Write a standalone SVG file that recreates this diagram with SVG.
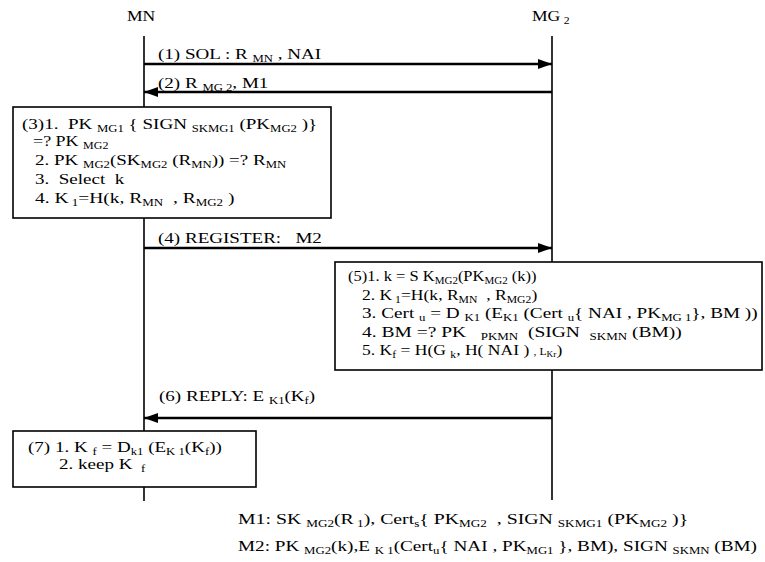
<svg xmlns="http://www.w3.org/2000/svg" width="765" height="562" viewBox="0 0 765 562">
<style>
text{font-family:"Liberation Serif","Times New Roman",Times,serif;font-size:15px;fill:#000;white-space:pre}
.s{font-size:10px}
.ss{font-size:8px}
.life{stroke:#000;stroke-width:1.6;fill:none}
.msg{stroke:#000;stroke-width:2.4;fill:none}
.box{fill:#fff;stroke:#000;stroke-width:1.6}
</style>
<defs>
<marker id="ah" viewBox="0 0 14 10" refX="14" refY="5" markerWidth="14" markerHeight="10" markerUnits="userSpaceOnUse" orient="auto">
<path d="M0,0 L14,5 L0,10 z" fill="#000"/>
</marker>
</defs>
<rect width="765" height="562" fill="#fff"/>
<g id="lifelines">
<text transform="translate(127,21) scale(1.17,1)">MN</text>
<text transform="translate(532,21) scale(1.17,1)">MG<tspan class="s" dx="3" dy="3">2</tspan></text>
<line class="life" x1="144" y1="36" x2="144" y2="501"/>
<line class="life" x1="552" y1="36" x2="552" y2="500"/>
</g>
<g id="connectors">
<line class="msg" x1="144" y1="64" x2="552" y2="64" marker-end="url(#ah)"/>
<line class="msg" x1="552" y1="92" x2="144" y2="92" marker-end="url(#ah)"/>
<line class="msg" x1="144" y1="248" x2="552" y2="248" marker-end="url(#ah)"/>
<line class="msg" x1="552" y1="418" x2="144" y2="418" marker-end="url(#ah)"/>
<text transform="translate(158,59) scale(1.27,1)">(1) SOL : R <tspan class="s" dy="3">MN</tspan><tspan dy="-3"> , NAI</tspan></text>
<text transform="translate(158,88) scale(1.27,1)">(2) R <tspan class="s" dy="3">MG 2</tspan><tspan dy="-3">, M1</tspan></text>
<text transform="translate(158,243) scale(1.27,1)">(4) REGISTER:   M2</text>
<text transform="translate(159,401) scale(1.27,1)">(6) REPLY: E <tspan class="s" dy="3">K1</tspan><tspan dy="-3">(K</tspan><tspan class="s" dy="3">f</tspan><tspan dy="-3">)</tspan></text>
</g>
<g id="step3">
<rect class="box" x="13" y="107" width="318" height="111"/>
<text transform="translate(22,129) scale(1.27,1)">(3)1.  PK <tspan class="s" dy="3">MG1</tspan><tspan dy="-3"> { SIGN </tspan><tspan class="s" dy="3">SKMG1</tspan><tspan dy="-3"> (PK</tspan><tspan class="s" dy="3">MG2</tspan><tspan dy="-3"> )}</tspan></text>
<text transform="translate(33,146) scale(1.2,1)">=? PK <tspan class="s" dy="3">MG2</tspan></text>
<text transform="translate(35,165) scale(1.27,1)">2. PK <tspan class="s" dy="3">MG2</tspan><tspan dy="-3">(SK</tspan><tspan class="s" dy="3">MG2</tspan><tspan dy="-3"> (R</tspan><tspan class="s" dy="3">MN</tspan><tspan dy="-3">)) =? R</tspan><tspan class="s" dy="3">MN</tspan></text>
<text transform="translate(35,184) scale(1.27,1)">3.  Select  k</text>
<text transform="translate(35,203) scale(1.3,1)">4. K<tspan class="s" dy="3"> 1</tspan><tspan dy="-3">=H(k, R</tspan><tspan class="s" dy="3">MN</tspan><tspan dy="-3">  , R</tspan><tspan class="s" dy="3">MG2</tspan><tspan dy="-3"> )</tspan></text>
</g>
<g id="step5">
<rect class="box" x="335" y="262" width="427" height="108"/>
<text transform="translate(348,281) scale(1.1,1)">(5)1. k = S K<tspan class="s" dy="3">MG2</tspan><tspan dy="-3">(PK</tspan><tspan class="s" dy="3">MG2</tspan><tspan dy="-3"> (k))</tspan></text>
<text transform="translate(362,300) scale(1.17,1)">2. K<tspan class="s" dy="3"> 1</tspan><tspan dy="-3">=H(k, R</tspan><tspan class="s" dy="3">MN</tspan><tspan dy="-3">  , R</tspan><tspan class="s" dy="3">MG2</tspan><tspan dy="-3">)</tspan></text>
<text transform="translate(362,318) scale(1.28,1)">3. Cert <tspan class="s" dy="3">u</tspan><tspan dy="-3"> = D </tspan><tspan class="s" dy="3">K1</tspan><tspan dy="-3"> (E</tspan><tspan class="s" dy="3">K1</tspan><tspan dy="-3"> (Cert </tspan><tspan class="s" dy="3">u</tspan><tspan dy="-3">{ NAI , PK</tspan><tspan class="s" dy="3">MG 1</tspan><tspan dy="-3">}, BM ))</tspan></text>
<text transform="translate(362,337) scale(1.3,1)">4. BM =? PK   <tspan class="s" dy="3">PKMN</tspan><tspan dy="-3">  (SIGN  </tspan><tspan class="s" dy="3">SKMN</tspan><tspan dy="-3"> (BM))</tspan></text>
<text transform="translate(362,355) scale(1.17,1)">5. K<tspan class="s" dy="3">f</tspan><tspan dy="-3"> = H(G </tspan><tspan class="s" dy="3">k</tspan><tspan dy="-3">, H( NAI ) </tspan><tspan class="s">, L</tspan><tspan class="ss" dy="2">Kr</tspan><tspan dy="-2">)</tspan></text>
</g>
<g id="step7">
<rect class="box" x="13" y="431" width="243" height="56"/>
<text transform="translate(28,452) scale(1.27,1)">(7) 1. K <tspan class="s" dy="3">f</tspan><tspan dy="-3"> = D</tspan><tspan class="s" dy="3">k1</tspan><tspan dy="-3"> (E</tspan><tspan class="s" dy="3">K 1</tspan><tspan dy="-3">(K</tspan><tspan class="s" dy="3">f</tspan><tspan dy="-3">))</tspan></text>
<text transform="translate(59,469) scale(1.27,1)">2. keep K <tspan class="s" dx="3" dy="3">f</tspan></text>
</g>
<g id="legend">
<text transform="translate(238,524) scale(1.32,1)">M1: SK <tspan class="s" dy="3">MG2</tspan><tspan dy="-3">(R</tspan><tspan class="s" dy="3"> 1</tspan><tspan dy="-3">), Cert</tspan><tspan class="s" dy="3">s</tspan><tspan dy="-3">{ PK</tspan><tspan class="s" dy="3">MG2</tspan><tspan dy="-3">  , SIGN </tspan><tspan class="s" dy="3">SKMG1</tspan><tspan dy="-3"> (PK</tspan><tspan class="s" dy="3">MG2</tspan><tspan dy="-3"> )}</tspan></text>
<text transform="translate(238,551) scale(1.28,1)">M2: PK <tspan class="s" dy="3">MG2</tspan><tspan dy="-3">(k),E </tspan><tspan class="s" dy="3">K 1</tspan><tspan dy="-3">(Cert</tspan><tspan class="s" dy="3">u</tspan><tspan dy="-3">{ NAI , PK</tspan><tspan class="s" dy="3">MG1</tspan><tspan dy="-3"> }, BM), SIGN </tspan><tspan class="s" dy="3">SKMN</tspan><tspan dy="-3"> (BM)</tspan></text>
</g>
</svg>
